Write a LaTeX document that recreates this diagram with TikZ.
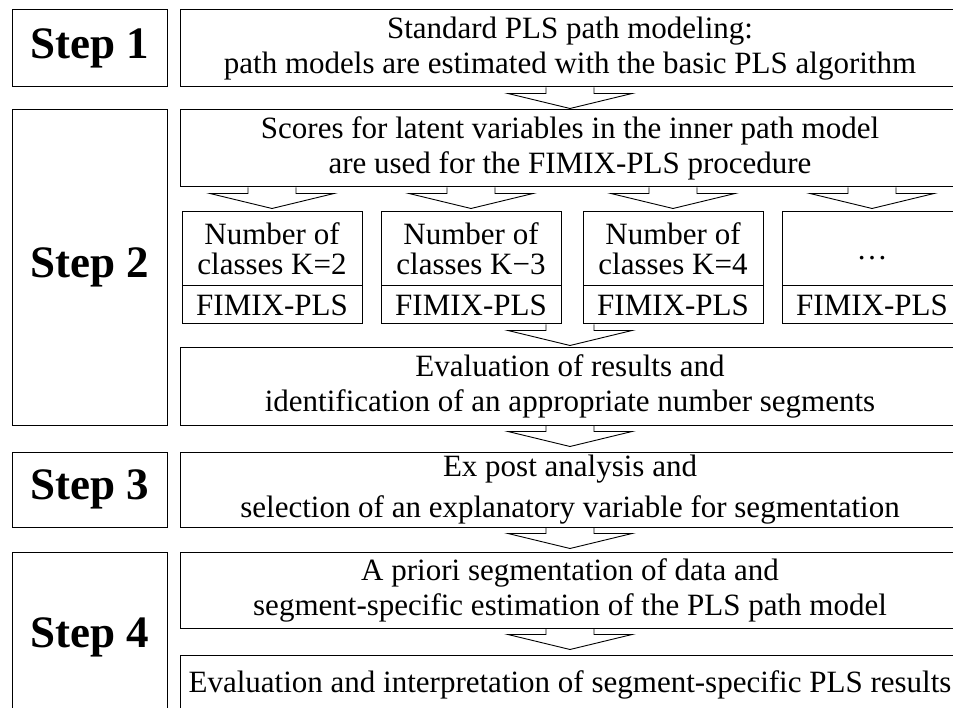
\documentclass[tikz,border=0pt]{standalone}
\usepackage{fontspec}
\setmainfont{Liberation Serif}
\usepackage{tikz}
\usetikzlibrary{calc}

\tikzset{
  stepbox/.style={draw, line width=1pt, minimum width=155pt, inner sep=0pt,
                  font=\fontsize{45}{50}\selectfont\bfseries},
  taskbox/.style={draw, line width=1pt, minimum width=780pt, minimum height=77pt,
                  inner sep=0pt, align=center, font=\fontsize{31}{35}\selectfont},
  kbox/.style={draw, line width=1pt, minimum width=180pt, inner sep=0pt,
               align=center, font=\fontsize{31}{30}\selectfont},
  pics/flowarrow/.style={code={
    \draw[line width=0.9pt, line join=miter]
      (-24,0) -- (-24,6) -- (-62,6) -- (0,21) -- (62,6) -- (24,6) -- (24,0);
  }}
}

\begin{document}
\begin{tikzpicture}[x=1pt, y=-1pt]
  \useasboundingbox (0,0) rectangle (953,708);
  \clip (0,0) rectangle (953,708);
  \fill[white] (0,0) rectangle (953,708);

  % Step labels on the left
  \node[stepbox, minimum height=77pt]  (step1) at (89.5,48.5) {Step 1};
  \node[stepbox, minimum height=315pt] (step2) at (89.5,267.5) {Step 2};
  \node[stepbox, minimum height=75pt]  (step3) at (89.5,489.5) {Step 3};
  \node[stepbox, minimum height=170pt] (step4) at (89.5,637) {Step 4};

  % Wide task boxes
  \node[taskbox] (standard) at (570,48.5)
    {Standard PLS path modeling:\\path models are estimated with the basic PLS algorithm};
  \node[taskbox] (scores) at (570,148.5)
    {Scores for latent variables in the inner path model\\are used for the FIMIX-PLS procedure};
  \node[taskbox] (evaluation) at (570,386.5)
    {Evaluation of results and\\identification of an appropriate number segments};
  \node[taskbox, minimum height=75pt] (expost) at (570,489.5)
    {Ex post analysis and\\[6pt]selection of an explanatory variable for segmentation};
  \node[taskbox, minimum height=76pt] (apriori) at (570,590)
    {A priori segmentation of data and\\segment-specific estimation of the PLS path model};
  \node[taskbox, minimum height=60pt] (interpret) at (570,685)
    {Evaluation and interpretation of segment-specific PLS results};

  % One FIMIX-PLS run per number of classes
  \foreach \k/\x/\txt in {2/272/{Number of\\classes K=2}, 3/471/{Number of\\classes K−3},
                          4/673/{Number of\\classes K=4}, 5/872/{\vphantom{Nb}\ldots}} {
    \node[kbox, minimum height=74pt] (class\k) at (\x,249) {\txt};
    \node[kbox, minimum height=38pt] (fimix\k) at (\x,305) {FIMIX-PLS};
  }

  % Hollow block arrows between the boxes
  \pic at (standard.south) {flowarrow};
  \foreach \k in {2,...,5}
    \pic at (scores.south -| class\k.north) {flowarrow};
  \pic at (fimix3.south -| evaluation.north) {flowarrow};
  \pic at (evaluation.south) {flowarrow};
  \pic at (expost.south) {flowarrow};
  \pic at (apriori.south) {flowarrow};
\end{tikzpicture}
\end{document}
